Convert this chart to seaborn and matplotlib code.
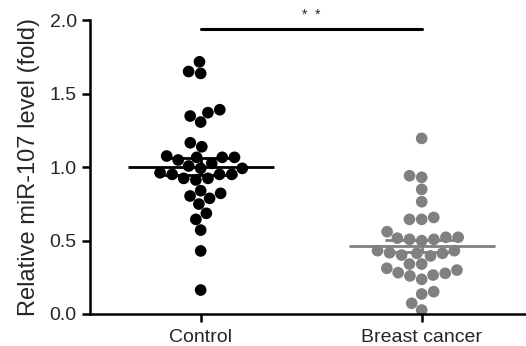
import numpy as np
import pandas as pd
import matplotlib
matplotlib.use("Agg")
import matplotlib.pyplot as plt
import seaborn as sns

groups = ["Control", "Breast cancer"]
control = [1.716, 1.637, 1.650, 1.390, 1.347, 1.306, 1.370, 1.165, 1.138,
           1.066, 1.066, 1.048, 1.066, 1.075,
           1.025, 0.991, 0.961, 0.950, 0.923, 0.912, 0.923, 0.950, 0.950, 0.991, 1.007,
           0.821, 0.787, 0.748, 0.803, 0.839,
           0.685, 0.644, 0.571, 0.429, 0.163]
breast_cancer = [1.195, 0.930, 0.941, 0.848, 0.764, 0.644, 0.644, 0.657, 0.560,
                 0.522, 0.508, 0.499, 0.508, 0.516, 0.522,
                 0.431, 0.413, 0.401, 0.395, 0.413, 0.417, 0.431,
                 0.340, 0.299, 0.265, 0.277, 0.236, 0.281, 0.259, 0.311, 0.340,
                 0.136, 0.152, 0.073, 0.027]
colors = ["#000000", "#808080"]
y_ticks = [0.0, 0.5, 1.0, 1.5, 2.0]
sig_label = "*  *"

df = pd.DataFrame({
    "group": [groups[0]] * len(control) + [groups[1]] * len(breast_cancer),
    "level": control + breast_cancer,
})

sns.set_style("ticks")
plt.rcParams["font.family"] = ["Liberation Sans", "DejaVu Sans"]

fig = plt.figure(figsize=(5.26, 3.46), dpi=100)
ax = fig.add_axes([0.171, 0.0925, 0.829, 0.8495])

sns.swarmplot(data=df, x="group", y="level", hue="group", palette=colors,
              order=groups, size=8.4, linewidth=0, legend=False, ax=ax,
              warn_thresh=1.0, zorder=2)

# mean +/- SEM
for i, vals in enumerate([control, breast_cancer]):
    vals = np.asarray(vals)
    m = vals.mean()
    sem = vals.std(ddof=1) / np.sqrt(len(vals))
    ax.hlines(m, i - 0.33, i + 0.33, color=colors[i], lw=2, zorder=10)
    ax.vlines(i, m - sem, m + sem, color=colors[i], lw=2, zorder=10)
    ax.hlines([m - sem, m + sem], i - 0.165, i + 0.165, color=colors[i],
              lw=2, zorder=10)

# significance bar
ax.plot([0, 1], [1.94, 1.94], color="black", lw=2.2, clip_on=False)
ax.text(0.5, 1.99, sig_label, ha="center", va="bottom", fontsize=10,
        clip_on=False)

ax.set_xlim(-0.501, 1.472)
ax.set_ylim(0, 2.0)
ax.set_yticks(y_ticks)
ax.set_yticklabels([f"{t:.1f}" for t in y_ticks])
ax.set_xlabel("")
ax.set_ylabel("Relative miR-107 level (fold)", fontsize=17, labelpad=7)
ax.tick_params(axis="both", labelsize=14, width=1.8, length=6, color="black")
ax.tick_params(axis="x", pad=4.5)
sns.despine(ax=ax)
for s in ["left", "bottom"]:
    ax.spines[s].set_linewidth(1.8)
    ax.spines[s].set_color("black")

plt.savefig("out.png", dpi=100)
plt.close()
